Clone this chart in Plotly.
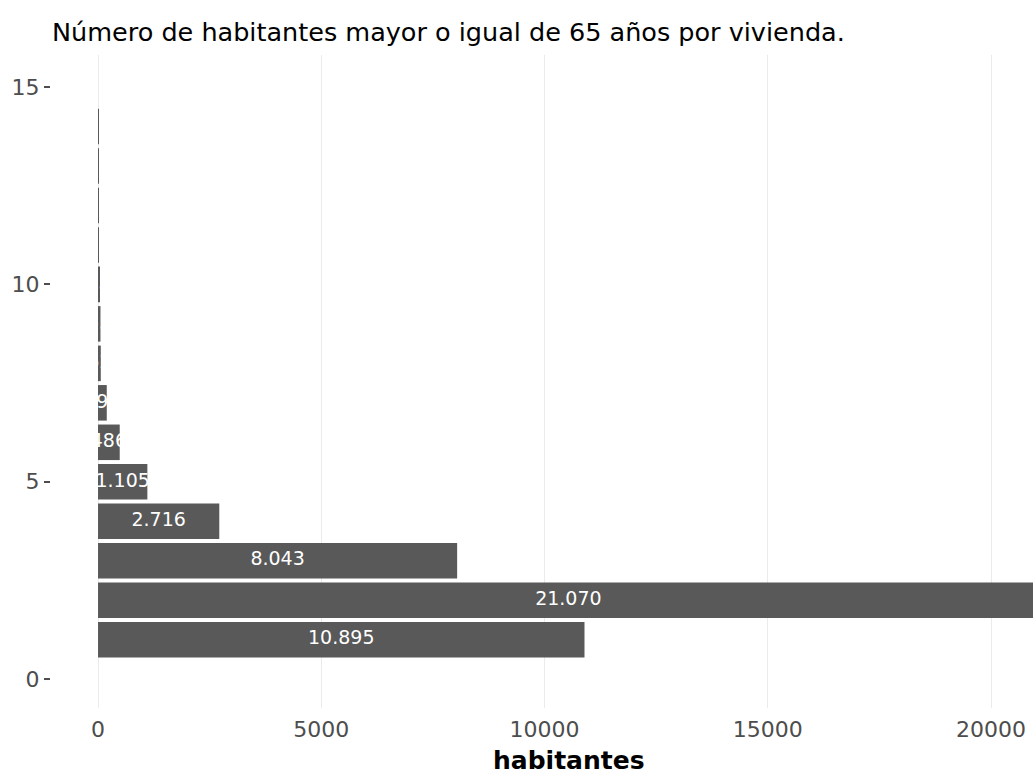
import plotly.graph_objects as go

personas = [1, 2, 3, 4, 5, 6, 7, 8, 9, 10, 11, 12, 13, 14]
habitantes = [10895, 21070, 8043, 2716, 1105, 486, 196, 62, 55, 25, 20, 18, 12, 15]
x_ticks = [0, 5000, 10000, 15000, 20000]
x_ticktext = ["0", "5000", "10000", "15000", "20000"]
y_ticks = [0, 5, 10, 15]

labels = [f"{v:,}".replace(",", ".") for v in habitantes]
mid = [v / 2 for v in habitantes]

FONT = "DejaVu Sans, Liberation Sans, Arial, sans-serif"

fig = go.Figure()
fig.add_trace(go.Bar(
    x=habitantes, y=personas, orientation="h", width=0.9,
    marker=dict(color="#595959", line=dict(width=0)),
    hoverinfo="skip",
))
fig.add_trace(go.Scatter(
    x=mid, y=personas, mode="text", text=labels,
    textposition="middle center",
    textfont=dict(color="white", size=19, family=FONT),
    hoverinfo="skip", cliponaxis=True,
))

fig.update_layout(
    width=1033, height=776,
    margin=dict(l=51, r=0, t=55, b=68),
    paper_bgcolor="white", plot_bgcolor="white",
    showlegend=False,
    font=dict(family=FONT),
    title=dict(
        text="Número de habitantes mayor o igual de 65 años por vivienda.",
        x=52 / 1033, xanchor="left", xref="container",
        y=1 - 32 / 776, yanchor="middle", yref="container",
        font=dict(size=25.5, color="black"),
    ),
    xaxis=dict(
        range=[-1053, 20940], tickvals=x_ticks, ticktext=x_ticktext,
        showgrid=True, gridcolor="#ebebeb", gridwidth=1,
        zeroline=False, showline=False, ticks="",
        tickfont=dict(size=22, color="#4d4d4d"),
        ticklabelstandoff=6,
    ),
    yaxis=dict(
        range=[-0.73, 15.81], tickvals=y_ticks,
        showgrid=False, zeroline=False, showline=False,
        ticks="outside", ticklen=6, tickwidth=2, tickcolor="#4d4d4d",
        tickfont=dict(size=22, color="#4d4d4d"),
        ticklabelstandoff=0,
    ),
    annotations=[dict(
        text="<b>habitantes</b>", xref="paper", yref="paper",
        x=(569 - 51) / (1033 - 51), y=-(760 - 708) / (708 - 55),
        xanchor="center", yanchor="middle", showarrow=False,
        font=dict(size=25, color="black"),
    )],
)

fig.write_html(
    "out.html",
    config={"displayModeBar": False},
    post_script="document.body.style.margin='0';document.body.style.overflow='hidden';",
)
